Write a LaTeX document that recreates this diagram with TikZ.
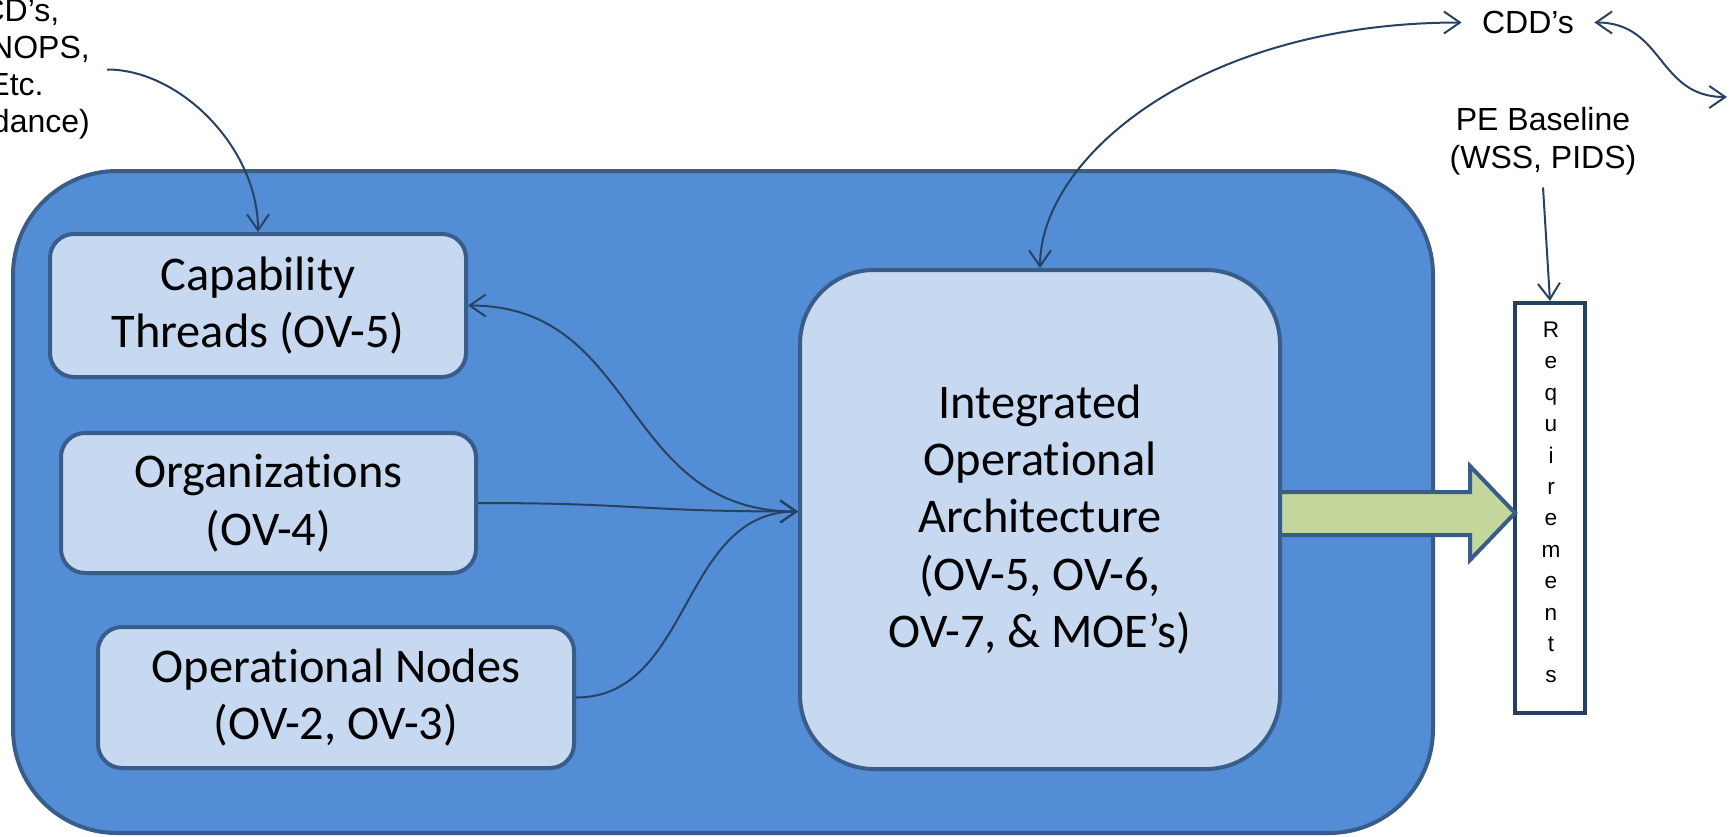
\documentclass[tikz,border=0pt]{standalone}
\usepackage{fontspec}
\setmainfont{Carlito}[Ligatures=NoCommon]
\newfontfamily\arialf{Liberation Sans}
\usetikzlibrary{arrows.meta}
\definecolor{bigfill}{RGB}{83,141,213}
\definecolor{edgecol}{RGB}{56,93,138}
\definecolor{boxfill}{RGB}{198,217,241}
\definecolor{greenfill}{RGB}{195,214,155}
\definecolor{conncol}{RGB}{40,66,100}
\definecolor{reqedge}{RGB}{38,64,97}
\begin{document}
\begin{tikzpicture}[x=0.5pt,y=-0.5pt,
  frame/.style={draw=edgecol, fill=bigfill, line width=2pt, rounded corners=52pt,
    minimum width=710pt, minimum height=331pt, inner sep=0pt},
  opbox/.style={draw=edgecol, fill=boxfill, line width=2pt, rounded corners=12pt,
    inner sep=0pt, align=center, font=\fontsize{24.2}{28.7}\selectfont},
  reqbox/.style={draw=reqedge, fill=white, line width=2pt, inner sep=0pt,
    minimum width=35pt, minimum height=205pt},
  arialtxt/.style={font=\arialf\fontsize{16}{19}\selectfont, inner sep=0pt},
  reqtxt/.style={font=\arialf\fontsize{11.3}{15.7}\selectfont, inner sep=0pt, align=center},
  barrow/.style={draw=edgecol, fill=greenfill, line width=2pt, line join=miter},
  arr/.style={draw=conncol, line width=1pt, -{Straight Barb[length=8pt,width=11pt]}},
  darr/.style={draw=conncol, line width=1pt,
    {Straight Barb[length=8pt,width=11pt]}-{Straight Barb[length=8pt,width=11pt]}}
]
\useasboundingbox (0,0) rectangle (1734,836);
\clip (0,0) rectangle (1734,836);

% container
\node[frame] (frame) at (723,502) {};

% boxes
\node[opbox, minimum width=208pt, minimum height=71.5pt] (cap) at (258,305.5)
  {Capability\\Threads (OV-5)};
\node[opbox, minimum width=207.5pt, minimum height=70pt] (org) at (268.5,503)
  {Organizations\\(OV-4)};
\node[opbox, minimum width=238pt, minimum height=70.5pt] (ops) at (336,697.5)
  {Operational Nodes\\(OV-2, OV-3)};
\node[opbox, rounded corners=37pt, minimum width=240pt, minimum height=249.5pt] (int) at (1040,519.5)
  {Integrated\\Operational\\Architecture\\(OV-5, OV-6,\\OV-7, \& MOE’s)};

% requirements
\node[reqbox] (req) at (1550,508) {};
\node[reqtxt] (reqt) at (1551,502.5) {R\\e\\q\\u\\i\\r\\e\\m\\e\\n\\t\\s};

% big green arrow
\draw[barrow] (1280,492) -- (1470,492) -- (1470,466) -- (1515,513) -- (1470,560)
  -- (1470,535) -- (1280,535) -- cycle;

% outside texts
\node[arialtxt, align=center, inner xsep=8.5pt, font=\arialf\fontsize{16}{18.5}\selectfont]
  (guid) at (16,69.5) {ICD’s,\\CONOPS,\\Etc.\\Guidance)};
\node[arialtxt, inner xsep=10pt] (cdd) at (1528,22.5) {CDD’s};
\node[arialtxt, align=center, inner ysep=6pt] (pe) at (1543,141) {PE Baseline\\(WSS, PIDS)};
\coordinate (cddend) at (1727,97);
\coordinate (intin) at ([yshift=4pt]int.west);

% connectors
\draw[darr] (int.north) .. controls +(0,-110) and +(-263,0) .. (cdd.west);
\draw[darr] (cdd.east) .. controls +(70,0) and +(-70,0) .. (cddend);
\draw[arr] (pe.south) -- (req.north);
\draw[arr] (guid.east) .. controls +(73,0) and +(0,-84) .. (cap.north);
\draw[darr] (cap.east) .. controls +(172,0) and +(-178,0) .. (intin);
\draw[arr] (org.east) .. controls +(160,0) and +(-160,0) .. (intin);
\draw[arr] (ops.east) .. controls +(116,0) and +(-118,0) .. (intin);
\end{tikzpicture}
\end{document}
